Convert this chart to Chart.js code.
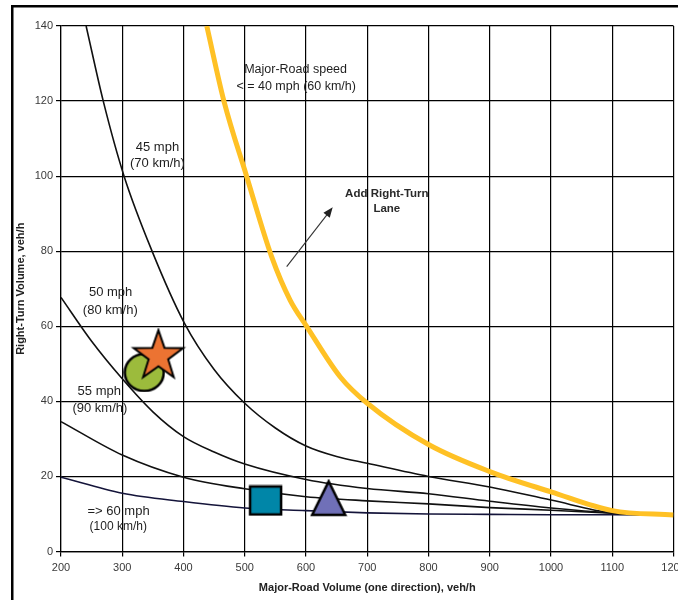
<!DOCTYPE html>
<html>
<head>
<meta charset="utf-8">
<script src="https://cdn.jsdelivr.net/npm/chart.js@4.4.0/dist/chart.umd.min.js"></script>
<style>
  html, body { margin: 0; padding: 0; background: #fff; }
  #wrap { position: relative; width: 678px; height: 600px; overflow: hidden; }
  #chart_right_turn { position: absolute; left: 0; top: 0; }
</style>
</head>
<body>
<div id="wrap"><canvas id="chart_right_turn" width="710" height="600"></canvas></div>
<script>
    // Courbes de seuil (volume route principale -> volume tourne-à-droite)
    var speed40X = [438, 466, 503, 544, 574, 601, 656, 700, 800, 900, 1000, 1100, 1200];
    var speed40Y = [140, 120, 100, 78.5, 67, 60, 46.5, 39.5, 28.5, 21.3, 15.9, 10.9, 9.7];
    var speed45X = [241, 269, 303, 348, 401, 450, 500, 550, 600, 650, 700, 800, 900, 1000, 1100, 1200];
    var speed45Y = [140, 120, 100, 80.3, 61, 48.5, 39.5, 32.9, 28.1, 25.3, 23.5, 20, 17.2, 13.7, 10.3, 9.7];
    var speed50X = [200, 250, 300, 350, 400, 450, 500, 600, 700, 800, 900, 1000, 1100, 1200];
    var speed50Y = [67.7, 56, 46, 37.2, 30.6, 26.5, 23.3, 19.2, 16.8, 15.4, 13.4, 11.6, 10.3, 9.7];
    var speed55X = [200, 300, 400, 500, 600, 700, 800, 900, 1000, 1100, 1200];
    var speed55Y = [34.6, 25.7, 19.8, 16.7, 14.6, 13.5, 12.7, 11.7, 11, 10.2, 9.7];
    var speed60X = [200, 300, 400, 500, 600, 700, 800, 900, 1000, 1100, 1200];
    var speed60Y = [19.8, 15.5, 13.3, 11.6, 10.9, 10.3, 10, 9.9, 9.8, 9.8, 9.7];

    // Sites étudiés (symboles)
    var siteNames = ['circle', 'star', 'square', 'triangle'];
    var siteX = [336, 359, 534, 637];
    var siteY = [47.7, 52.2, 13.6, 14.3];

    var xTicks = [200, 300, 400, 500, 600, 700, 800, 900, 1000, 1100, 1200];
    var yTicks = [0, 20, 40, 60, 80, 100, 120, 140];

    // Textes posés dans le graphe (coordonnées en unités des axes)
    var curveLabels = [
        {text: 'Major-Road speed', x: 583, y: 128.3, size: 12.5},
        {text: '< = 40 mph (60 km/h)', x: 584, y: 123.8, size: 12.5},
        {text: '45 mph', x: 357.5, y: 107.6, size: 13},
        {text: '(70 km/h)', x: 357.5, y: 103.4, size: 13},
        {text: '50 mph', x: 281, y: 68.9, size: 13},
        {text: '(80 km/h)', x: 280.5, y: 64.3, size: 13},
        {text: '55 mph', x: 262.5, y: 42.6, size: 13},
        {text: '(90 km/h)', x: 263.5, y: 38.1, size: 13},
        {text: '=> 60 mph', x: 294, y: 10.6, size: 13},
        {text: '(100 km/h)', x: 293.5, y: 6.6, size: 12},
        {text: 'Add Right-Turn', x: 732, y: 95.2, size: 11.5, bold: true},
        {text: 'Lane', x: 732, y: 91.2, size: 11.5, bold: true}
    ];
    var arrowFrom = {x: 568.5, y: 75.9};
    var arrowTo = {x: 643.6, y: 91.7};

    var FONT = "'Liberation Sans', Arial, sans-serif";

    function toPoints(xs, ys) {
        return xs.map(function (x, i) { return {x: x, y: ys[i]}; });
    }

    function makeMarker(w, h, draw) {
        var c = document.createElement('canvas');
        c.width = w;
        c.height = h;
        var g = c.getContext('2d');
        g.lineJoin = 'miter';
        draw(g, w, h);
        return c;
    }

    var markers = {
        circle: makeMarker(42, 40, function (g, w, h) {
            g.beginPath();
            g.ellipse(w / 2, h / 2, 19.5, 18.5, 0, 0, Math.PI * 2);
            g.fillStyle = '#9CBB3C';
            g.fill();
            g.lineWidth = 2.5;
            g.strokeStyle = '#000';
            g.stroke();
        }),
        star: makeMarker(58, 56, function (g, w, h) {
            var cx = w / 2, cy = 28.5, R = 26, r = 10.3;
            g.beginPath();
            for (var i = 0; i < 10; i++) {
                var a = -Math.PI / 2 + i * Math.PI / 5;
                var rr = i % 2 === 0 ? R : r;
                g.lineTo(cx + Math.cos(a) * rr, cy + Math.sin(a) * rr);
            }
            g.closePath();
            g.fillStyle = '#EC7332';
            g.fill();
            g.lineWidth = 2;
            g.strokeStyle = '#000';
            g.stroke();
        }),
        square: makeMarker(35, 32, function (g, w, h) {
            g.fillStyle = '#0086A8';
            g.fillRect(2, 2, w - 4, h - 4);
            g.lineWidth = 2.5;
            g.strokeStyle = '#000';
            g.strokeRect(2, 2, w - 4, h - 4);
        }),
        triangle: makeMarker(38, 38, function (g, w, h) {
            g.beginPath();
            g.moveTo(w / 2, 2.5);
            g.lineTo(w - 2.5, h - 2);
            g.lineTo(2.5, h - 2);
            g.closePath();
            g.fillStyle = '#7070B8';
            g.fill();
            g.lineWidth = 2.5;
            g.strokeStyle = '#000';
            g.stroke();
        })
    };

    function curve(xs, ys, color, width, order) {
        return {
            data: toPoints(xs, ys),
            borderColor: color,
            borderWidth: width,
            pointRadius: 0,
            fill: false,
            cubicInterpolationMode: 'monotone',
            order: order
        };
    }

    var datasets = [
        curve(speed40X, speed40Y, '#FFC125', 5, 5),
        curve(speed45X, speed45Y, '#111', 1.6, 6),
        curve(speed50X, speed50Y, '#111', 1.6, 6),
        curve(speed55X, speed55Y, '#111', 1.6, 6),
        curve(speed60X, speed60Y, '#14143a', 1.6, 6)
    ];
    siteNames.forEach(function (name, i) {
        datasets.push({
            type: 'scatter',
            data: [{x: siteX[i], y: siteY[i]}],
            pointStyle: markers[name],
            pointRadius: 20,
            showLine: false,
            order: name === 'star' ? 0 : 1
        });
    });

    var annotationPlugin = {
        id: 'annotations',
        beforeDraw: function (chart) {
            var ctx = chart.ctx;
            ctx.save();
            ctx.fillStyle = '#000';
            ctx.fillRect(11, 5, 700, 2.5);
            ctx.fillRect(11, 5, 2.5, 595);
            ctx.restore();
        },
        afterDatasetsDraw: function (chart) {
            var ctx = chart.ctx;
            var xs = chart.scales.x, ys = chart.scales.y;
            ctx.save();
            ctx.textAlign = 'center';
            ctx.textBaseline = 'middle';
            curveLabels.forEach(function (l) {
                ctx.font = (l.bold ? 'bold ' : '') + l.size + 'px ' + FONT;
                ctx.fillStyle = l.bold ? '#2a2a2a' : '#1e1e1e';
                ctx.fillText(l.text, xs.getPixelForValue(l.x), ys.getPixelForValue(l.y));
            });
            // flèche "Add Right-Turn Lane"
            var x0 = xs.getPixelForValue(arrowFrom.x), y0 = ys.getPixelForValue(arrowFrom.y);
            var x1 = xs.getPixelForValue(arrowTo.x), y1 = ys.getPixelForValue(arrowTo.y);
            var ang = Math.atan2(y1 - y0, x1 - x0);
            ctx.strokeStyle = '#333';
            ctx.fillStyle = '#222';
            ctx.lineWidth = 1.1;
            ctx.beginPath();
            ctx.moveTo(x0, y0);
            ctx.lineTo(x1 - Math.cos(ang) * 6, y1 - Math.sin(ang) * 6);
            ctx.stroke();
            ctx.beginPath();
            ctx.moveTo(x1, y1);
            ctx.lineTo(x1 - Math.cos(ang) * 10 + Math.sin(ang) * 4, y1 - Math.sin(ang) * 10 - Math.cos(ang) * 4);
            ctx.lineTo(x1 - Math.cos(ang) * 10 - Math.sin(ang) * 4, y1 - Math.sin(ang) * 10 + Math.cos(ang) * 4);
            ctx.closePath();
            ctx.fill();
            ctx.restore();
        }
    };

    new Chart("chart_right_turn", {
        type: "line",
        data: {datasets: datasets},
        options: {
            responsive: false,
            animation: false,
            events: [],
            layout: {padding: {top: 26, right: 710 - 673.5, left: 0, bottom: 0}},
            plugins: {legend: {display: false}, tooltip: {enabled: false}},
            scales: {
                x: {
                    type: 'linear',
                    min: 200,
                    max: 1200,
                    afterBuildTicks: function (scale) {
                        scale.ticks = xTicks.map(function (v) { return {value: v}; });
                    },
                    afterFit: function (scale) {
                        scale.height = 48.5;
                    },
                    grid: {color: '#000', lineWidth: 1.2, tickLength: 5, tickColor: '#000'},
                    border: {color: '#000', width: 1.2},
                    ticks: {
                        padding: 5,
                        maxRotation: 0,
                        autoSkip: false,
                        color: '#3a3a3a',
                        font: {family: FONT, size: 11},
                        callback: function (v) { return String(v); }
                    },
                    title: {
                        display: true,
                        text: 'Major-Road Volume (one direction), veh/h',
                        color: '#222',
                        font: {family: FONT, size: 11, weight: 'bold'},
                        padding: {top: 0, bottom: 5}
                    }
                },
                y: {
                    min: 0,
                    max: 140,
                    afterBuildTicks: function (scale) {
                        scale.ticks = yTicks.map(function (v) { return {value: v}; });
                    },
                    afterFit: function (scale) {
                        scale.width = 61;
                        scale.paddingTop = 0;
                        scale.paddingBottom = 0;
                    },
                    grid: {color: '#000', lineWidth: 1.2, tickLength: 5, tickColor: '#000'},
                    border: {color: '#000', width: 1.2},
                    ticks: {
                        padding: 3,
                        autoSkip: false,
                        color: '#3a3a3a',
                        font: {family: FONT, size: 11}
                    },
                    title: {
                        display: true,
                        text: 'Right-Turn Volume, veh/h',
                        color: '#222',
                        font: {family: FONT, size: 11, weight: 'bold'},
                        padding: {top: 14.5, bottom: 0}
                    }
                }
            }
        },
        plugins: [annotationPlugin]
    });
</script>
</body>
</html>
